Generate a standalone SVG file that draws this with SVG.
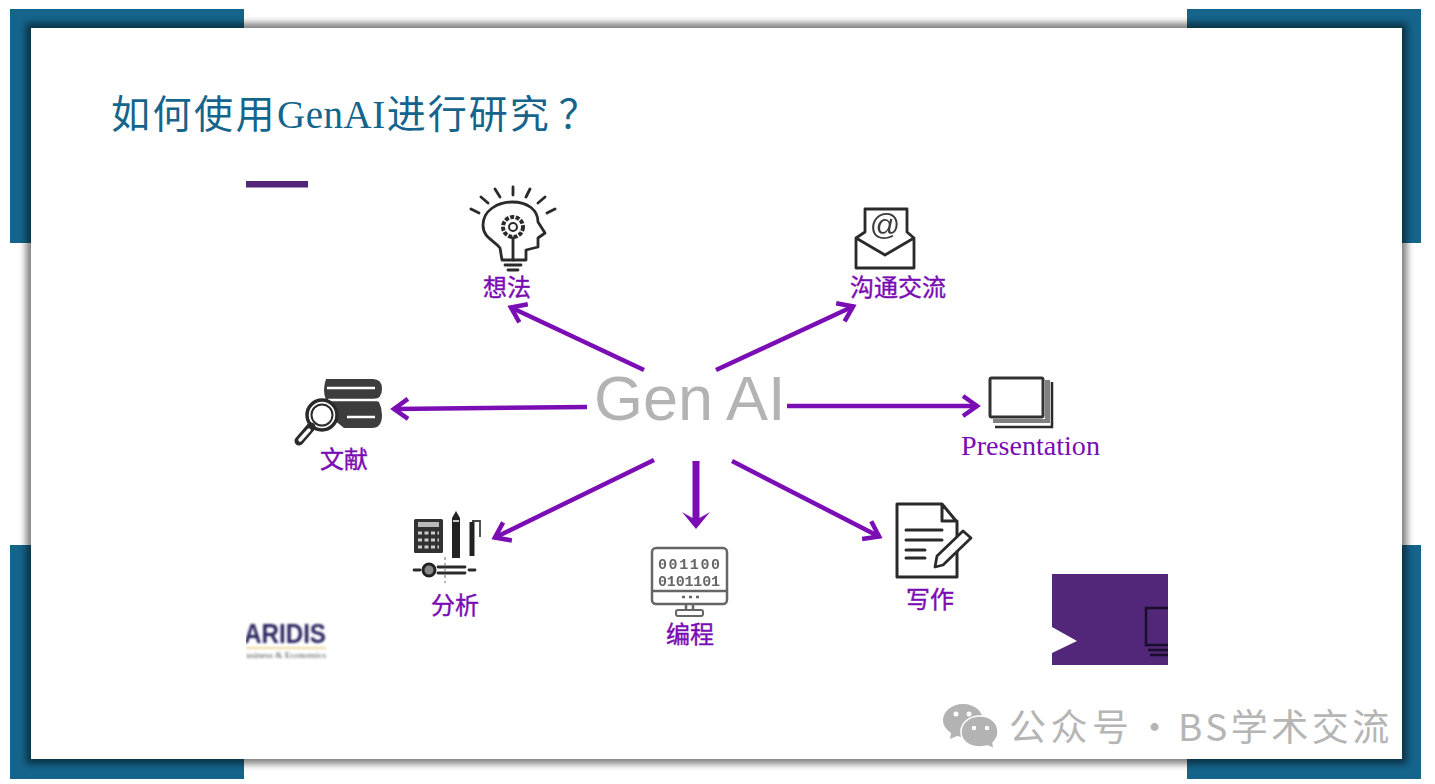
<svg xmlns="http://www.w3.org/2000/svg" width="1435" height="784" viewBox="0 0 1435 784">
<style>
.lbl{font-family:"Noto Sans CJK SC","Noto Sans",sans-serif;font-size:24px;fill:#7a0cb3;stroke:#7a0cb3;stroke-width:.4;text-anchor:middle}
.ic{fill:none;stroke:#2b2b2b;stroke-width:2.8;stroke-linecap:round;stroke-linejoin:round}
.cn{fill:none;stroke:#7b0db5;stroke-width:4.5}
.corner{fill:#15648c}
</style>
<defs>
<filter id="blur" x="-5%" y="-5%" width="110%" height="110%"><feGaussianBlur stdDeviation="3.5"/></filter>
<filter id="soft" x="-5%" y="-20%" width="110%" height="140%"><feGaussianBlur stdDeviation="0.8"/></filter>
<filter id="iconsoft" x="-10%" y="-10%" width="120%" height="120%"><feGaussianBlur stdDeviation="0.45"/></filter>
<clipPath id="logoClip"><rect x="246" y="610" width="90" height="55"/></clipPath>
<clipPath id="bannerClip"><rect x="1052" y="574" width="116" height="91"/></clipPath>
<marker id="head" markerUnits="userSpaceOnUse" markerWidth="32" markerHeight="32" refX="24" refY="16" orient="auto" viewBox="0 0 32 32"><path d="M9 6L23 16L9 26" fill="none" stroke="#7b0db5" stroke-width="4.5"/></marker>
<marker id="headBig" markerUnits="userSpaceOnUse" markerWidth="32" markerHeight="32" refX="20" refY="16" orient="auto" viewBox="0 0 32 32"><path d="M7 2L24 16L7 30L15 16Z" fill="#7b0db5"/></marker>
</defs>
<rect width="1435" height="784" fill="#fff"/>
<g id="frame">
<rect class="corner" x="10" y="9" width="234" height="234"/>
<rect class="corner" x="1187" y="9" width="234" height="234"/>
<rect class="corner" x="10" y="545" width="234" height="234"/>
<rect class="corner" x="1187" y="545" width="234" height="234"/>
<rect x="26" y="23" width="1381" height="741" fill="#000" fill-opacity="0.5" filter="url(#blur)"/>
<rect x="31" y="28" width="1371" height="731" fill="#fff"/>
</g>
<g id="title"><text x="111" y="128" font-family="'Liberation Serif','Noto Sans CJK SC',serif" font-size="39" fill="#15648c"><tspan letter-spacing="2.5">如何使用</tspan><tspan letter-spacing="0.5">GenAI</tspan><tspan dx="1" letter-spacing="2">进行研究</tspan><tspan dx="8">？</tspan></text></g>
<rect id="accent-bar" x="246" y="181" width="62" height="6.5" fill="#52277a"/>
<g id="connectors">
<line class="cn" x1="644" y1="370" x2="510" y2="307" marker-end="url(#head)"/>
<line class="cn" x1="716" y1="370" x2="854" y2="306" marker-end="url(#head)"/>
<line class="cn" x1="587" y1="407" x2="393" y2="409" marker-end="url(#head)"/>
<line class="cn" x1="787" y1="406" x2="978" y2="406" marker-end="url(#head)"/>
<line class="cn" x1="654" y1="460" x2="494" y2="538" marker-end="url(#head)"/>
<line x1="696" y1="461" x2="696" y2="525" fill="none" stroke="#7b0db5" stroke-width="7" marker-end="url(#headBig)"/>
<line class="cn" x1="732" y1="461" x2="880" y2="537" marker-end="url(#head)"/>
</g>
<g id="center"><text x="594" y="420" font-family="'Liberation Sans',Arial,sans-serif" font-size="63" fill="#b3b3b3">Gen<tspan dx="13">AI</tspan></text></g>
<g id="idea">
<g filter="url(#iconsoft)">
<path class="ic" d="M502 260L500 248C494 240 483 238 483 225C483 211 497 202 512 202C528 202 538 210 538 222L545 233L538 238V247L526 250V260Z"/>
<path class="ic" d="M513 238V260M505 265H521M508 270H518M471 209L479 213M481 197L488 203M495 189L500 197M513 187V195M530 189L526 197M545 197L538 203M555 209L547 213"/>
<circle cx="513" cy="227" r="10" fill="none" stroke="#2b2b2b" stroke-width="4" stroke-dasharray="4 1.5"/>
<circle cx="513" cy="227" r="4" fill="none" stroke="#2b2b2b" stroke-width="2"/>
</g>
<text class="lbl" x="507" y="296">想法</text>
</g>
<g id="communication">
<g filter="url(#iconsoft)">
<path class="ic" d="M865 232V209H907V232M856 238L865 232M914 238L907 232M856 238L885 255L914 238V268H856Z"/>
<text x="885" y="235" font-family="'Liberation Sans',sans-serif" font-size="30" fill="#3a3a3a" text-anchor="middle">@</text>
</g>
<text class="lbl" x="898" y="296">沟通交流</text>
</g>
<g id="literature">
<g filter="url(#iconsoft)">
<path d="M326 379H373Q382 379 382 389Q382 399 373 399L379 402Q382 408 382 415Q382 428 372 428H344L322 410L326 400Q322 390 326 379Z" fill="#3d3d3d"/>
<path d="M327 388H375M347 417H375M328 400H378" stroke="#fff" stroke-width="2.5" fill="none"/>
<circle cx="322" cy="415" r="15" fill="#fff" stroke="#2b2b2b" stroke-width="3.5"/>
<circle cx="322" cy="415" r="10.5" fill="#fff" stroke="#2b2b2b" stroke-width="2"/>
<path d="M311 427L299 441" stroke="#2b2b2b" stroke-width="9" stroke-linecap="round"/>
<path d="M309 430L300 440" stroke="#fff" stroke-width="3.5" stroke-linecap="round"/>
</g>
<text class="lbl" x="344" y="468">文献</text>
</g>
<g id="presentation">
<g filter="url(#iconsoft)">
<path d="M1045 380H1050V423H993V419H1045Z" fill="#808080"/>
<path d="M1052 382V427H995" fill="none" stroke="#2b2b2b" stroke-width="2.5"/>
<rect x="990" y="378" width="53" height="39" rx="1.5" fill="#fff" stroke="#333" stroke-width="3"/>
</g>
<text x="961" y="455" font-family="'Liberation Serif',serif" font-size="27" fill="#7a0cb3" textLength="139" lengthAdjust="spacingAndGlyphs">Presentation</text>
</g>
<g id="analysis">
<g filter="url(#iconsoft)">
<rect x="414" y="519" width="29" height="34" rx="1.5" fill="#333"/>
<rect x="418" y="522" width="21" height="5" fill="#bbb"/>
<path d="M418 533H439M418 540H439M418 547H439" stroke="#ccc" stroke-width="3" stroke-dasharray="4 2.5" fill="none"/>
<path d="M456 511L460 518V558H452V518Z" fill="#222"/>
<path d="M453 521H459" stroke="#fff" stroke-width="1.5"/>
<path d="M472 522V556" stroke="#222" stroke-width="5"/>
<path d="M472 521H480V537" fill="none" stroke="#444" stroke-width="1.8"/>
<path class="ic" d="M414 570H420M438 567H465M438 573H465M469 570H475"/>
<circle cx="429" cy="570" r="6" fill="#888" stroke="#222" stroke-width="3"/>
<path d="M445 557V583" stroke="#999" stroke-width="1.5" stroke-dasharray="3 3"/>
</g>
<text class="lbl" x="455" y="614">分析</text>
</g>
<g id="coding">
<g filter="url(#iconsoft)">
<rect x="652" y="548" width="75" height="56" rx="4" fill="#fff" stroke="#666" stroke-width="2.5"/>
<path d="M652 591H727M686 604V610M693 604V610" stroke="#666" stroke-width="2.5" fill="none"/>
<rect x="676" y="610" width="27" height="6" rx="2" fill="#fff" stroke="#666" stroke-width="2"/>
<path d="M682 597H700" stroke="#666" stroke-width="2.5" stroke-dasharray="3 4" fill="none"/>
<text x="658" y="569" font-family="'Liberation Mono',monospace" font-weight="bold" font-size="15" fill="#666" textLength="62">001100</text>
<text x="658" y="586" font-family="'Liberation Mono',monospace" font-weight="bold" font-size="15" fill="#666" textLength="62">0101101</text>
</g>
<text class="lbl" x="690" y="643">编程</text>
</g>
<g id="writing">
<g filter="url(#iconsoft)">
<path class="ic" style="stroke-width:3" d="M897 504H942L957 522V577H897ZM942 504V521H957"/>
<path class="ic" style="stroke-width:3" d="M906 530H942M906 540H942M906 550H925M906 558H925"/>
<path d="M963 531L971 538L943 565L935 567L937 556Z" fill="#fff" stroke="#2b2b2b" stroke-width="2.8" stroke-linejoin="round"/>
</g>
<text class="lbl" x="930" y="608">写作</text>
</g>
<g id="logo" clip-path="url(#logoClip)">
<g filter="url(#soft)">
<text x="244" y="643" font-family="'Liberation Sans',sans-serif" font-size="28" font-weight="bold" fill="#2c2560" textLength="82" lengthAdjust="spacingAndGlyphs">ARIDIS</text>
<rect x="246" y="647" width="80" height="2" fill="#eedc9a"/>
<text x="246" y="658" font-family="'Liberation Serif',serif" font-size="9" fill="#555" textLength="80" lengthAdjust="spacingAndGlyphs">usiness &amp; Economics</text>
</g>
</g>
<g id="banner" clip-path="url(#bannerClip)">
<rect x="1052" y="574" width="116" height="91" fill="#52277a"/>
<path d="M1052 627L1077 641L1052 653Z" fill="#fff"/>
<path d="M1170 608H1146V645H1170M1148 650H1170M1150 655H1170" fill="none" stroke="#1a0f2a" stroke-width="2.5"/>
</g>
<g id="watermark">
<path d="M963 704C951 704 943 712 943 720C943 726 947 730 951 733L950 739L957 736C960 737 963 737 966 737C976 737 983 729 983 720C983 712 975 704 963 704Z" fill="#b3b3b3"/>
<path d="M980 716C969 716 961 723 961 732C961 741 969 747 980 747C983 747 985 746 988 746L994 749L993 743C996 740 998 736 998 732C998 723 991 716 980 716Z" fill="#b3b3b3" stroke="#fff" stroke-width="1.5"/>
<circle cx="956" cy="714" r="2.5" fill="#fff"/><circle cx="969" cy="714" r="2.5" fill="#fff"/>
<circle cx="974" cy="728" r="2.2" fill="#fff"/><circle cx="987" cy="728" r="2.2" fill="#fff"/>
<text y="741" font-family="'Noto Sans CJK SC','Noto Sans',sans-serif" font-size="37" fill="#b5b5b5"><tspan x="1009" letter-spacing="4.5">公众号</tspan><tspan x="1136">·</tspan><tspan x="1178" letter-spacing="3.5">BS学术交流</tspan></text>
</g>
</svg>
